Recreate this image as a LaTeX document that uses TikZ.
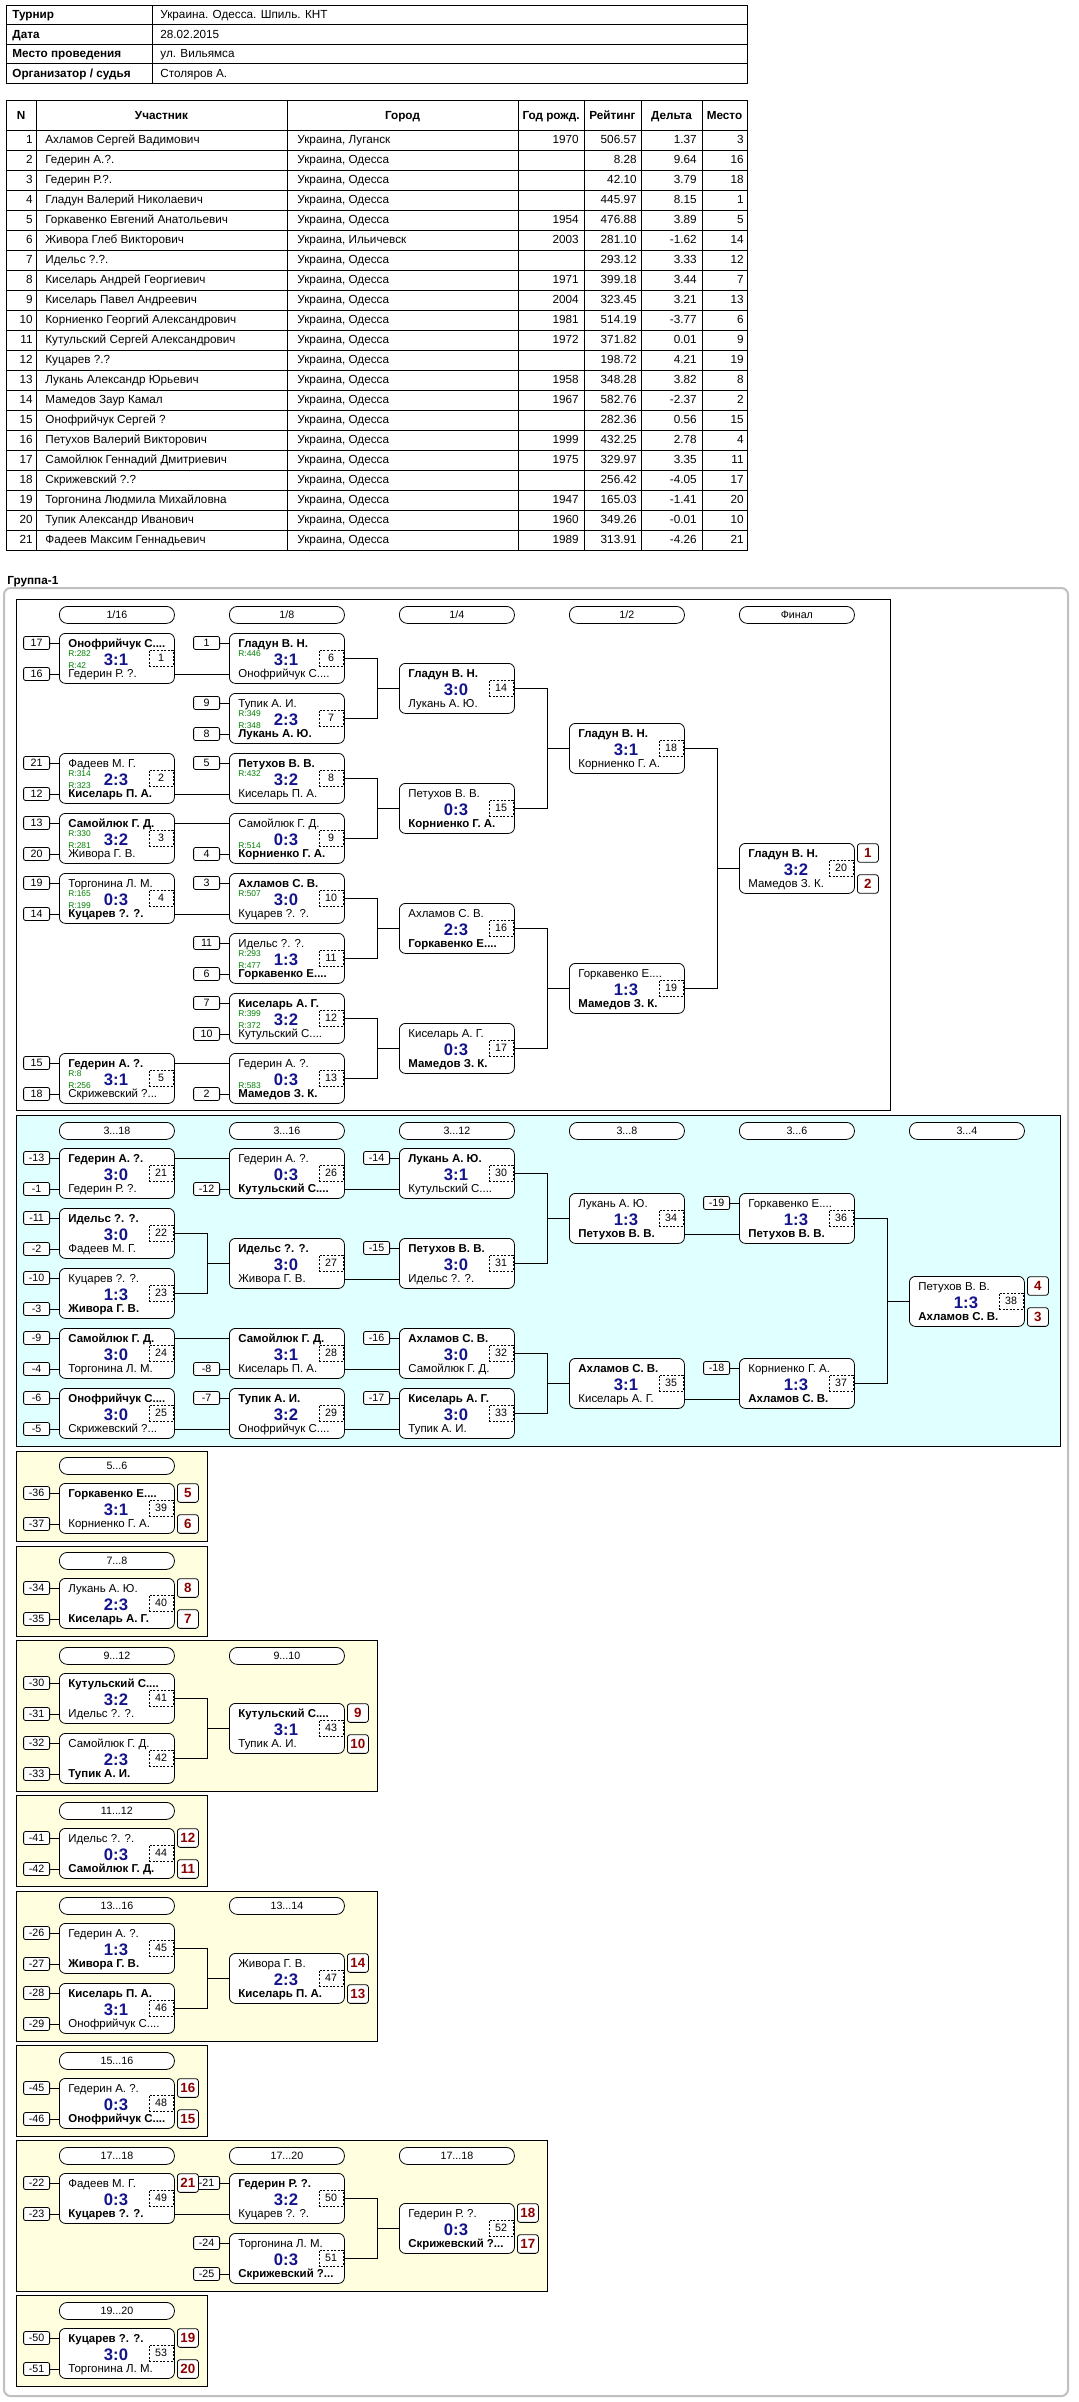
\documentclass[tikz,border=0pt]{standalone}
\usepackage{fontspec}
\setmainfont{Liberation Sans}
\usepackage{tikz}
\usetikzlibrary{positioning,calc}
\definecolor{scoreblue}{HTML}{14148C}
\definecolor{placered}{HTML}{8B0000}
\definecolor{ratinggreen}{HTML}{008000}
\definecolor{loserblue}{HTML}{E0FFFF}
\definecolor{classyellow}{HTML}{FFFFE0}
\newcommand\fsize[1]{\fontsize{#1}{#1}\selectfont}
\newcommand\trail{...}

\begin{document}
\begin{tikzpicture}[x=0.75pt,y=-0.75pt,line width=0.6pt,
    mbox/.style={draw,rounded corners=4.5pt,fill=white,minimum width=86.25pt,minimum height=37.5pt,inner sep=0pt,anchor=north west},
    hdr/.style={draw,rounded corners=6pt,fill=white,minimum width=86.25pt,minimum height=12.75pt,inner sep=0pt,anchor=north west,font=\fsize{8}},
    numbox/.style={draw,dash pattern=on 1.5pt off 1.2pt,minimum width=18pt,minimum height=12pt,inner sep=0pt,font=\fsize{8}},
    seedbox/.style={draw,rounded corners=1.5pt,fill=white,minimum width=19.5pt,minimum height=9.75pt,inner sep=0pt,font=\fsize{8}},
    placebox/.style={draw,rounded corners=2pt,fill=white,minimum width=15.75pt,minimum height=14pt,inner sep=0pt,font=\fsize{10}\bfseries,text=placered},
    nm/.style={anchor=base west,inner sep=0pt,font=\fsize{8.6}},
    sc/.style={anchor=base,inner sep=0pt,font=\fsize{12.5}\bfseries,text=scoreblue},
    rt/.style={anchor=base west,inner sep=0pt,font=\fsize{6.3},text=ratinggreen},
    cell/.style={inner sep=0pt,font=\fsize{8.8}},
    ]
    \useasboundingbox (0,0) rectangle (1078,2402);

    \draw (6,5) rectangle (747,83);
    \foreach \k in {1,2,3} \draw (6,5+19.5*\k) -- (747,5+19.5*\k);
    \draw (152,5) -- (152,83);
    \foreach \k/\lab/\val in {0/Турнир/Украина. Одесса. Шпиль. КНТ,1/Дата/28.02.2015,2/Место проведения/ул. Вильямса,3/{Организатор / судья}/Столяров А.}{
        \node[cell,anchor=base west,font=\fsize{8.8}\bfseries] (i\k-a) at (12,18.5+19.5*\k) {\lab};
        \node[cell,anchor=base west] (i\k-b) at (160,18.5+19.5*\k) {\val};
    }

    \draw (6,100) rectangle (747,550);
    \foreach \k in {0,...,20} \draw (6,130+20*\k) -- (747,130+20*\k);
    \foreach \xx in {36,287,518,584,641,702} \draw (\xx,100) -- (\xx,550);
    \foreach \xx/\lab [count=\hn] in {21/N,161.5/Участник,402.5/Город,551/Год рожд.,612.5/Рейтинг,671.5/Дельта,724.5/Место}{
        \node[cell,anchor=base,font=\fsize{8.8}\bfseries] (t\hn) at (\xx,119) {\lab};
    }
    \foreach \n/\pn/\ct/\yr/\rt/\dl/\pl in {
        1/Ахламов Сергей Вадимович/Луганск/1970/506.57/1.37/3,
        2/Гедерин А.?./Одесса//8.28/9.64/16,
        3/Гедерин Р.?./Одесса//42.10/3.79/18,
        4/Гладун Валерий Николаевич/Одесса//445.97/8.15/1,
        5/Горкавенко Евгений Анатольевич/Одесса/1954/476.88/3.89/5,
        6/Живора Глеб Викторович/Ильичевск/2003/281.10/-1.62/14,
        7/Идельс ?.?./Одесса//293.12/3.33/12,
        8/Киселарь Андрей Георгиевич/Одесса/1971/399.18/3.44/7,
        9/Киселарь Павел Андреевич/Одесса/2004/323.45/3.21/13,
        10/Корниенко Георгий Александрович/Одесса/1981/514.19/-3.77/6,
        11/Кутульский Сергей Александрович/Одесса/1972/371.82/0.01/9,
        12/Куцарев ?.?/Одесса//198.72/4.21/19,
        13/Лукань Александр Юрьевич/Одесса/1958/348.28/3.82/8,
        14/Мамедов Заур Камал/Одесса/1967/582.76/-2.37/2,
        15/Онофрийчук Сергей ?/Одесса//282.36/0.56/15,
        16/Петухов Валерий Викторович/Одесса/1999/432.25/2.78/4,
        17/Самойлюк Геннадий Дмитриевич/Одесса/1975/329.97/3.35/11,
        18/Скрижевский ?.?/Одесса//256.42/-4.05/17,
        19/Торгонина Людмила Михайловна/Одесса/1947/165.03/-1.41/20,
        20/Тупик Александр Иванович/Одесса/1960/349.26/-0.01/10,
        21/Фадеев Максим Геннадьевич/Одесса/1989/313.91/-4.26/21}{
        \node[cell,anchor=base east] (r\n-n) at (33,123.5+20*\n) {\n};
        \node[cell,anchor=base west] (r\n-p) at (45,123.5+20*\n) {\pn};
        \node[cell,anchor=base west] (r\n-c) at (297,123.5+20*\n) {Украина, \ct};
        \node[cell,anchor=base east] (r\n-y) at (579,123.5+20*\n) {\yr};
        \node[cell,anchor=base east] (r\n-r) at (637,123.5+20*\n) {\rt};
        \node[cell,anchor=base east] (r\n-d) at (697,123.5+20*\n) {\dl};
        \node[cell,anchor=base east] (r\n-m) at (744,123.5+20*\n) {\pl};
    }

    \node[cell,anchor=base west,font=\fsize{8.8}\bfseries] (grp) at (7,584) {Группа-1};
    \draw[black!25,line width=1.5pt,rounded corners=5pt] (4,588) rectangle (1068,2396);
    \draw[fill=white] (16,599) rectangle (890,1110);
    \draw[fill=loserblue] (16,1115) rectangle (1060,1446);
    \foreach \ya/\xb/\yb in {1451/207/1541,1546/207/1636,1640/377/1791,1795/207/1886,1891/377/2041,2045/207/2136,2140/547/2291,2295/207/2386}
        \draw[fill=classyellow] (16,\ya) rectangle (\xb,\yb);

    \foreach \x/\y/\lab [count=\hn] in {59/606/{1/16},229/606/{1/8},399/606/{1/4},569/606/{1/2},739/606/Финал,
        59/1122/3\trail18,229/1122/3\trail16,399/1122/3\trail12,569/1122/3\trail8,739/1122/3\trail6,909/1122/3\trail4,
        59/1457/5\trail6,59/1552/7\trail8,59/1647/9\trail12,229/1647/9\trail10,59/1802/11\trail12,
        59/1897/13\trail16,229/1897/13\trail14,59/2052/15\trail16,
        59/2147/17\trail18,229/2147/17\trail20,399/2147/17\trail18,59/2302/19\trail20}{
        \node[hdr] (h\hn) at (\x,\y) {\lab};
    }

    \foreach \id/\x/\y/\ta/\tb/\sc/\w/\ra/\rb in {
        1/59/633/Онофрийчук С.\trail/Гедерин Р. ?./3:1/1/282/42,
        2/59/753/Фадеев М. Г./Киселарь П. А./2:3/2/314/323,
        3/59/813/Самойлюк Г. Д./Живора Г. В./3:2/1/330/281,
        4/59/873/Торгонина Л. М./Куцарев ?. ?./0:3/2/165/199,
        5/59/1053/Гедерин А. ?./Скрижевский ?\trail/3:1/1/8/256,
        6/229/633/Гладун В. Н./Онофрийчук С.\trail/3:1/1/446/0,
        7/229/693/Тупик А. И./Лукань А. Ю./2:3/2/349/348,
        8/229/753/Петухов В. В./Киселарь П. А./3:2/1/432/0,
        9/229/813/Самойлюк Г. Д./Корниенко Г. А./0:3/2/0/514,
        10/229/873/Ахламов С. В./Куцарев ?. ?./3:0/1/507/0,
        11/229/933/Идельс ?. ?./Горкавенко Е.\trail/1:3/2/293/477,
        12/229/993/Киселарь А. Г./Кутульский С.\trail/3:2/1/399/372,
        13/229/1053/Гедерин А. ?./Мамедов З. К./0:3/2/0/583,
        14/399/663/Гладун В. Н./Лукань А. Ю./3:0/1/0/0,
        15/399/783/Петухов В. В./Корниенко Г. А./0:3/2/0/0,
        16/399/903/Ахламов С. В./Горкавенко Е.\trail/2:3/2/0/0,
        17/399/1023/Киселарь А. Г./Мамедов З. К./0:3/2/0/0,
        18/569/723/Гладун В. Н./Корниенко Г. А./3:1/1/0/0,
        19/569/963/Горкавенко Е.\trail/Мамедов З. К./1:3/2/0/0,
        20/739/843/Гладун В. Н./Мамедов З. К./3:2/1/0/0,
        21/59/1148/Гедерин А. ?./Гедерин Р. ?./3:0/1/0/0,
        22/59/1208/Идельс ?. ?./Фадеев М. Г./3:0/1/0/0,
        23/59/1268/Куцарев ?. ?./Живора Г. В./1:3/2/0/0,
        24/59/1328/Самойлюк Г. Д./Торгонина Л. М./3:0/1/0/0,
        25/59/1388/Онофрийчук С.\trail/Скрижевский ?\trail/3:0/1/0/0,
        26/229/1148/Гедерин А. ?./Кутульский С.\trail/0:3/2/0/0,
        27/229/1238/Идельс ?. ?./Живора Г. В./3:0/1/0/0,
        28/229/1328/Самойлюк Г. Д./Киселарь П. А./3:1/1/0/0,
        29/229/1388/Тупик А. И./Онофрийчук С.\trail/3:2/1/0/0,
        30/399/1148/Лукань А. Ю./Кутульский С.\trail/3:1/1/0/0,
        31/399/1238/Петухов В. В./Идельс ?. ?./3:0/1/0/0,
        32/399/1328/Ахламов С. В./Самойлюк Г. Д./3:0/1/0/0,
        33/399/1388/Киселарь А. Г./Тупик А. И./3:0/1/0/0,
        34/569/1193/Лукань А. Ю./Петухов В. В./1:3/2/0/0,
        35/569/1358/Ахламов С. В./Киселарь А. Г./3:1/1/0/0,
        36/739/1193/Горкавенко Е.\trail/Петухов В. В./1:3/2/0/0,
        37/739/1358/Корниенко Г. А./Ахламов С. В./1:3/2/0/0,
        38/909/1276/Петухов В. В./Ахламов С. В./1:3/2/0/0,
        39/59/1483/Горкавенко Е.\trail/Корниенко Г. А./3:1/1/0/0,
        40/59/1578/Лукань А. Ю./Киселарь А. Г./2:3/2/0/0,
        41/59/1673/Кутульский С.\trail/Идельс ?. ?./3:2/1/0/0,
        42/59/1733/Самойлюк Г. Д./Тупик А. И./2:3/2/0/0,
        43/229/1703/Кутульский С.\trail/Тупик А. И./3:1/1/0/0,
        44/59/1828/Идельс ?. ?./Самойлюк Г. Д./0:3/2/0/0,
        45/59/1923/Гедерин А. ?./Живора Г. В./1:3/2/0/0,
        46/59/1983/Киселарь П. А./Онофрийчук С.\trail/3:1/1/0/0,
        47/229/1953/Живора Г. В./Киселарь П. А./2:3/2/0/0,
        48/59/2078/Гедерин А. ?./Онофрийчук С.\trail/0:3/2/0/0,
        49/59/2173/Фадеев М. Г./Куцарев ?. ?./0:3/2/0/0,
        50/229/2173/Гедерин Р. ?./Куцарев ?. ?./3:2/1/0/0,
        51/229/2233/Торгонина Л. М./Скрижевский ?\trail/0:3/2/0/0,
        52/399/2203/Гедерин Р. ?./Скрижевский ?\trail/0:3/2/0/0,
        53/59/2328/Куцарев ?. ?./Торгонина Л. М./3:0/1/0/0}{
        \node[mbox] (m\id) at (\x,\y) {};
        \coordinate (w\id-t) at (\x,\y+10);
        \coordinate (w\id-b) at (\x,\y+41);
        \coordinate (e\id-t) at (\x+115,\y+10);
        \coordinate (e\id-b) at (\x+115,\y+41);
        \node[nm] (m\id-a) at (\x+9,\y+14) {\ifnum\w=1 \bfseries\fi\ta};
        \node[nm] (m\id-b) at (\x+9,\y+44.5) {\ifnum\w=2 \bfseries\fi\tb};
        \node[sc] (m\id-s) at (\x+57,\y+32.5) {\sc};
        \node[numbox] (m\id-n) at (\x+102,\y+25) {\id};
        \ifnum\ra>0 \node[rt] (m\id-ra) at (\x+9,\y+23) {R:\ra};\fi
        \ifnum\rb>0 \node[rt] (m\id-rb) at (\x+9,\y+35) {R:\rb};\fi
    }

    \foreach \mi/\rw/\sd in {1/t/17,1/b/16,2/t/21,2/b/12,3/t/13,3/b/20,4/t/19,4/b/14,5/t/15,5/b/18,
        6/t/1,7/t/9,7/b/8,8/t/5,9/b/4,10/t/3,11/t/11,11/b/6,12/t/7,12/b/10,13/b/2,
        21/t/-13,21/b/-1,22/t/-11,22/b/-2,23/t/-10,23/b/-3,24/t/-9,24/b/-4,25/t/-6,25/b/-5,
        26/b/-12,28/b/-8,29/t/-7,30/t/-14,31/t/-15,32/t/-16,33/t/-17,36/t/-19,37/t/-18,
        39/t/-36,39/b/-37,40/t/-34,40/b/-35,41/t/-30,41/b/-31,42/t/-32,42/b/-33,44/t/-41,44/b/-42,
        45/t/-26,45/b/-27,46/t/-28,46/b/-29,48/t/-45,48/b/-46,49/t/-22,49/b/-23,50/t/-21,
        51/t/-24,51/b/-25,53/t/-50,53/b/-51}{
        \node[seedbox,left=6.75pt of w\mi-\rw] (s\mi\rw) {\sd};
        \draw (s\mi\rw) -- (w\mi-\rw);
    }

    \foreach \mi/\rw/\pl in {20/t/1,20/b/2,38/t/4,38/b/3,39/t/5,39/b/6,40/t/8,40/b/7,43/t/9,43/b/10,
        44/t/12,44/b/11,47/t/14,47/b/13,48/t/16,48/b/15,49/t/21,52/t/18,52/b/17,53/t/19,53/b/20}{
        \node[placebox,right=2.25pt of e\mi-\rw] (p\mi\rw) {\pl};
    }

    \foreach \a/\b/\rw in {1/6/b,2/8/b,3/9/t,4/10/b,5/13/t,21/26/t,26/30/b,27/31/b,24/28/t,28/32/b,
        25/29/b,29/33/b,34/36/b,35/37/b,49/50/b}
        \draw (e\a-\rw) -- (w\b-\rw);

    \foreach \a/\b/\c in {6/7/14,8/9/15,10/11/16,12/13/17,14/15/18,16/17/19,18/19/20,22/23/27,
        30/31/34,32/33/35,36/37/38,41/42/43,45/46/47,50/51/52}{
        \draw (m\a.east) -- ++(33,0) |- (m\c.west);
        \draw (m\b.east) -- ++(33,0) |- (m\c.west);
    }
\end{tikzpicture}
\end{document}
